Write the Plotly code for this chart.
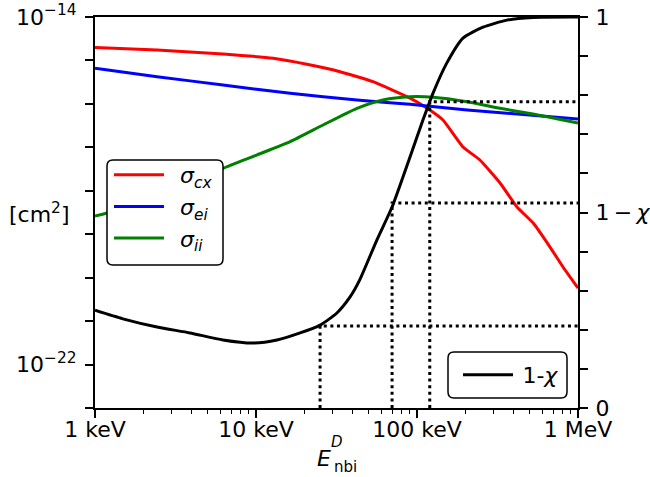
import plotly.graph_objects as go

# ---------------- data ----------------
E_cx = [1, 2.43, 6.24, 12.8, 20.7, 33.3, 53.3, 90.5, 115, 145, 193, 246, 328, 418, 527, 670, 807, 1000]
sigma_cx = [1.99e-15, 1.74e-15, 1.41e-15, 1.12e-15, 8.15e-16, 5.51e-16, 3.24e-16, 1.36e-16, 8.04e-17,
            4.26e-17, 1.02e-17, 5.11e-18, 1.51e-18, 4.23e-19, 1.81e-19, 5.07e-20, 1.76e-20, 5.75e-21]

E_ei = [1, 2.43, 6.24, 16.3, 42.4, 90.5, 205, 1000]
sigma_ei = [6.59e-16, 4.23e-16, 2.72e-16, 1.75e-16, 1.23e-16, 9.77e-17, 7.23e-17, 4.47e-17]

E_ii = [1, 1.19, 2.0, 4.0, 6.24, 10.1, 16.3, 26.1, 42.4, 61.5, 90.5, 126, 205, 328, 525, 1000]
sigma_ii = [2.62e-19, 3.08e-19, 6.17e-19, 1.35e-18, 3.29e-18, 6.65e-18, 1.35e-17, 3.27e-17, 7.91e-17,
            1.23e-16, 1.46e-16, 1.42e-16, 1.12e-16, 7.91e-17, 5.85e-17, 3.63e-17]

E_chi = [1, 1.49, 2.43, 3.89, 6.24, 9.58, 13.5, 18.8, 25, 31.8, 38.4, 44, 56.4, 70, 90.5, 109, 126, 153,
         193, 257, 362, 525, 1000]
one_minus_chi = [0.25, 0.228, 0.207, 0.192, 0.174, 0.166, 0.174, 0.192, 0.212, 0.243, 0.284, 0.327, 0.43,
                 0.514, 0.642, 0.737, 0.806, 0.882, 0.946, 0.974, 0.992, 0.999, 1.0]

mark_E = [25, 70, 120]
mark_level = [0.21, 0.524, 0.783]
E_max = 1000

x_tickvals = [1, 10, 100, 1000]
x_ticktext = ["1 keV", "10 keV", "100 keV", "1 MeV"]
x_minor = [2, 3, 4, 5, 6, 7, 8, 9, 20, 30, 40, 50, 60, 70, 80, 90, 200, 300, 400, 500, 600, 700, 800, 900]
y_tickvals = [1e-23, 1e-22, 1e-21, 1e-20, 1e-19, 1e-18, 1e-17, 1e-16, 1e-15, 1e-14]
y_ticktext = ["", "10<sup>\u221222</sup>", "", "", "", "", "", "", "", "10<sup>\u221214</sup>"]
y2_tickvals = [0, 0.1, 0.2, 0.3, 0.4, 0.5, 0.6, 0.7, 0.8, 0.9, 1.0]
y2_ticktext = ["0", "", "", "", "", "1\u2009\u2212\u2009<i>\u03c7</i>", "", "", "", "", "1"]

FONT = "DejaVu Sans"
FS = 22
W, H = 650, 477
ML, MR, MT, MB = 95, 72, 17, 69
PW, PH = W - ML - MR, H - MT - MB


def px2paper(px, py):
    return (px - ML) / PW, (H - MB - py) / PH


fig = go.Figure()

# dotted guide lines (on right axis)
for e, lv in zip(mark_E, mark_level):
    fig.add_trace(go.Scatter(x=[e, e, E_max], y=[0, lv, lv], mode="lines", yaxis="y2",
                             line=dict(color="black", width=3, dash="3px,3.6px"),
                             showlegend=False, hoverinfo="skip"))

SP = "\u2002"
fig.add_trace(go.Scatter(x=E_cx, y=sigma_cx, mode="lines", name=SP + "<i>\u03c3<sub>cx</sub></i>",
                         line=dict(color="#ff0000", width=3, shape="spline", smoothing=0.4), legend="legend"))
fig.add_trace(go.Scatter(x=E_ei, y=sigma_ei, mode="lines", name=SP + "<i>\u03c3<sub>ei</sub></i>",
                         line=dict(color="#0000ff", width=3, shape="spline", smoothing=0.6), legend="legend"))
fig.add_trace(go.Scatter(x=E_ii, y=sigma_ii, mode="lines", name=SP + "<i>\u03c3<sub>ii</sub></i>",
                         line=dict(color="#008000", width=3, shape="spline", smoothing=0.6), legend="legend"))
fig.add_trace(go.Scatter(x=E_chi, y=one_minus_chi, mode="lines", name="\u2009" + "1-<i>\u03c7</i>", yaxis="y2",
                         line=dict(color="black", width=3, shape="spline", smoothing=0.6), legend="legend2"))


def rounded_box(x0p, y0p, x1p, y1p, r=6):
    def P(x, y):
        a, b = px2paper(x, y)
        return f"{a:.5f},{b:.5f}"
    return ("M" + P(x0p + r, y0p) + " L" + P(x1p - r, y0p) + " Q" + P(x1p, y0p) + " " + P(x1p, y0p + r) +
            " L" + P(x1p, y1p - r) + " Q" + P(x1p, y1p) + " " + P(x1p - r, y1p) +
            " L" + P(x0p + r, y1p) + " Q" + P(x0p, y1p) + " " + P(x0p, y1p - r) +
            " L" + P(x0p, y0p + r) + " Q" + P(x0p, y0p) + " " + P(x0p + r, y0p) + " Z")


shapes = [
    dict(type="path", xref="paper", yref="paper", path=rounded_box(107, 160, 223, 265),
         fillcolor="white", line=dict(color="black", width=1.5), layer="above"),
    dict(type="path", xref="paper", yref="paper", path=rounded_box(448, 352, 567, 398),
         fillcolor="white", line=dict(color="black", width=1.5), layer="above"),
]

lx1, ly1 = px2paper(109, 154)
lx2, ly2 = px2paper(458, 354)

annotations = [
    dict(text="[cm<sup>2</sup>]", xref="paper", yref="paper", x=px2paper(39, 0)[0], y=0.5,
         xanchor="center", yanchor="middle",
         showarrow=False, font=dict(family=FONT, size=FS, color="black")),
    dict(text="<i>E</i>", xref="paper", yref="paper", x=px2paper(324, 0)[0], y=px2paper(0, 458)[1],
         xanchor="center", yanchor="middle",
         showarrow=False, font=dict(family=FONT, size=FS, color="black")),
    dict(text="<i>D</i>", xref="paper", yref="paper", x=px2paper(337, 0)[0], y=px2paper(0, 442)[1],
         xanchor="center", yanchor="middle",
         showarrow=False, font=dict(family=FONT, size=15, color="black")),
    dict(text="nbi", xref="paper", yref="paper", x=px2paper(345, 0)[0], y=px2paper(0, 467)[1],
         xanchor="center", yanchor="middle",
         showarrow=False, font=dict(family=FONT, size=15, color="black")),
]

fig.update_layout(
    width=W, height=H,
    margin=dict(l=ML, r=MR, t=MT, b=MB, pad=0, autoexpand=False),
    paper_bgcolor="white", plot_bgcolor="white",
    font=dict(family=FONT, size=FS, color="black"),
    shapes=shapes, annotations=annotations,
    xaxis=dict(type="log", range=[0, 3], tickvals=x_tickvals, ticktext=x_ticktext,
               ticks="outside", ticklen=8, tickwidth=1.5, tickcolor="black",
               minor=dict(tickvals=x_minor, ticks="outside", ticklen=4, tickwidth=1.2, tickcolor="black"),
               showline=True, linecolor="black", linewidth=2, mirror=True, automargin=False,
               showgrid=False, zeroline=False, tickfont=dict(size=FS), ticklabelstandoff=-7),
    yaxis=dict(type="log", range=[-23, -14], tickvals=y_tickvals, ticktext=y_ticktext,
               ticks="outside", ticklen=8, tickwidth=1.5, tickcolor="black",
               showline=True, linecolor="black", linewidth=2, automargin=False,
               showgrid=False, zeroline=False, tickfont=dict(size=FS), ticklabelstandoff=4),
    yaxis2=dict(overlaying="y", side="right", range=[0, 1], tickvals=y2_tickvals, ticktext=y2_ticktext,
                ticks="outside", ticklen=8, tickwidth=1.5, tickcolor="black",
                showline=True, linecolor="black", linewidth=2, automargin=False,
                showgrid=False, zeroline=False, tickfont=dict(size=FS), ticklabelstandoff=3),
    legend=dict(x=lx1, y=ly1, xanchor="left", yanchor="top", bgcolor="rgba(0,0,0,0)", borderwidth=0,
                font=dict(family=FONT, size=FS), itemwidth=50, tracegroupgap=0),
    legend2=dict(x=lx2, y=ly2, xanchor="left", yanchor="top", bgcolor="rgba(0,0,0,0)", borderwidth=0,
                 font=dict(family=FONT, size=FS), itemwidth=50),
)

fig.write_html("out.html")
